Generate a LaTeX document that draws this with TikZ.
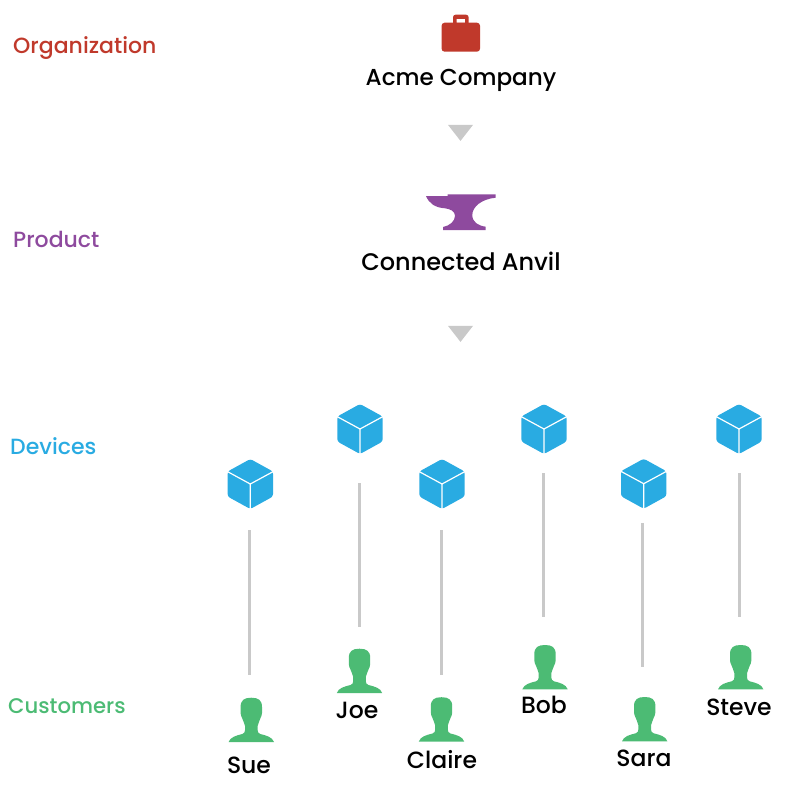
\documentclass[tikz,border=0pt]{standalone}
\usepackage{fontspec}
\setmainfont{Poppins Medium}
\usetikzlibrary{positioning, shapes.geometric}

\definecolor{orgred}{HTML}{C0392B}
\definecolor{prodpurple}{HTML}{8E4A9E}
\definecolor{devblue}{HTML}{29ABE2}
\definecolor{custgreen}{HTML}{4CBB74}
\definecolor{linegray}{HTML}{C9C9C9}

\begin{document}
\begin{tikzpicture}[
x=1pt, y=-1pt,
tier/.style={anchor=base west, inner sep=0pt, font=\fontsize{22}{24}\selectfont},
title/.style={anchor=base, inner sep=0pt, font=\fontsize{23.1}{26}\selectfont},
person/.style={inner sep=0pt, text height=16pt, text depth=5pt, font=\fontsize{23.5}{26}\selectfont},
marker/.style={isosceles triangle, isosceles triangle stretches, shape border rotate=270,
  fill=linegray, inner sep=0pt, minimum width=25pt, minimum height=16pt},
link/.style={linegray, line width=3pt},
device/.style={inner sep=0pt, minimum width=47pt, minimum height=51pt, path picture={
  \fill[devblue, rounded corners=2.5pt, shift={(path picture bounding box.center)}]
    (0,-25) -- (22.7,-12.5) -- (22.7,12.5) -- (0,25) -- (-22.7,12.5) -- (-22.7,-12.5) -- cycle;
  \draw[white, line width=1.2pt, shift={(path picture bounding box.center)}]
    (-23,-12.5) -- (0,0) -- (23,-12.5) (0,0) -- (0,25);
}},
customer/.style={inner sep=0pt, minimum width=47pt, minimum height=45pt, path picture={
  \fill[custgreen, shift={(path picture bounding box.center)}]
    (-22.7,22) .. controls (-21,17) and (-15,15.5) .. (-9,14)
    .. controls (-7,13.4) and (-6.3,12) .. (-6.3,10) -- (-6.3,6)
    .. controls (-6.5,3.5) and (-8.3,1.5) .. (-9.2,-2)
    .. controls (-9.6,-3.5) and (-10.7,-4) .. (-10.7,-7) -- (-10.7,-13)
    .. controls (-10.7,-20) and (-7,-22.3) .. (0,-22.3)
    .. controls (7,-22.3) and (10.7,-20) .. (10.7,-13) -- (10.7,-7)
    .. controls (10.7,-4) and (9.6,-3.5) .. (9.2,-2)
    .. controls (8.3,1.5) and (6.5,3.5) .. (6.3,6) -- (6.3,10)
    .. controls (6.3,12) and (7,13.4) .. (9,14)
    .. controls (15,15.5) and (21,17) .. (22.7,22) -- cycle;
}}
]
\useasboundingbox (0,0) rectangle (800,800);

% row labels
\node (orglabel) [tier, text=orgred] at (13,53.5) {Organization};
\node (prodlabel) [tier, text=prodpurple] at (13,247) {Product};
\node (devlabel) [tier, text=devblue] at (10,454) {Devices};
\node (custlabel) [tier, text=custgreen, font=\fontsize{21.2}{24}\selectfont] at (8,713) {Customers};

% organization
\node (bag) [inner sep=0pt, minimum width=40pt, minimum height=38pt, path picture={
  \fill[orgred, rounded corners=3pt, shift={(path picture bounding box.center)}]
    (-19.2,-10.5) rectangle (19.2,18.5);
  \fill[orgred, even odd rule, shift={(path picture bounding box.center)}]
    [rounded corners=2.5pt] (-7.8,-8) -- (-7.8,-18.5) -- (7.8,-18.5) -- (7.8,-8) -- cycle
    [sharp corners] (-4.2,-10.4) rectangle (4.2,-14.2);
}] at (460.8,33.2) {};
\node (acme) [title] at (461,85) {Acme Company};
\node (arrowone) [marker] at (460.5,131) {};

% product
\node (anvil) [inner sep=0pt, minimum width=72pt, minimum height=38pt, path picture={
  \fill[prodpurple, shift={(path picture bounding box.center)}]
    (-13.1,-17.9) -- (34.9,-17.9) -- (34.9,-14.5)
    .. controls (20.9,-13.2) and (11.5,-5.5) .. (11.5,2.8)
    .. controls (11.5,10.1) and (17.5,13.5) .. (24.9,14.5)
    -- (24.9,17.8) -- (-17.8,17.8) -- (-17.8,14.8)
    .. controls (-10.8,13.5) and (-5.8,8.8) .. (-5.8,3.5)
    .. controls (-5.8,-1.2) and (-10.8,-3.2) .. (-15.8,-3.9)
    .. controls (-25.8,-4.5) and (-31.8,-8.9) .. (-34.8,-16.2)
    -- (-13.1,-16.2) -- cycle;
}] at (460.8,212.2) {};
\node (connected) [title, font=\fontsize{24}{26}\selectfont] at (461,270) {Connected Anvil};
\node (arrowtwo) [marker] at (460.5,332) {};

% devices
\node (suedev) [device] at (250.3,484) {};
\node (joedev) [device] at (360,429) {};
\node (clairedev) [device] at (442,484) {};
\node (bobdev) [device] at (544,429) {};
\node (saradev) [device] at (643.7,483.7) {};
\node (stevedev) [device] at (739,429) {};

% customers
\node (sue) [customer] at (251.3,720) {};
\node (joe) [customer] at (359.5,671) {};
\node (claire) [customer] at (441.5,719.5) {};
\node (bob) [customer] at (545,667.3) {};
\node (sara) [customer] at (644.7,719.3) {};
\node (steve) [customer] at (740.7,667.3) {};

\node (suename) [person, below=15pt of sue, xshift=-2.3pt] {Sue};
\node (joename) [person, below=9pt of joe, xshift=-2.5pt] {Joe};
\node (clairename) [person, below=10.3pt of claire, xshift=0.5pt] {Claire};
\node (bobname) [person, below=7.2pt of bob, xshift=-1pt] {Bob};
\node (saraname) [person, below=8.4pt of sara, xshift=-0.7pt] {Sara};
\node (stevename) [person, below=9.5pt of steve, xshift=-1.7pt] {Steve};

\draw[link] ([shift={(-0.8,20.5)}]suedev.south) -- ([shift={(-1.8,-22.5)}]sue.north);
\draw[link] ([shift={(-1,28.5)}]joedev.south) -- ([shift={(-0.5,-21.5)}]joe.north);
\draw[link] ([shift={(-0.7,20.5)}]clairedev.south) -- ([shift={(-0.2,-22)}]claire.north);
\draw[link] ([shift={(-0.3,18.5)}]bobdev.south) -- ([shift={(-1.3,-27.8)}]bob.north);
\draw[link] ([shift={(-1,13.5)}]saradev.south) -- ([shift={(-2,-29.5)}]sara.north);
\draw[link] ([shift={(0,18.5)}]stevedev.south) -- ([shift={(-1.7,-27.8)}]steve.north);

\end{tikzpicture}
\end{document}
